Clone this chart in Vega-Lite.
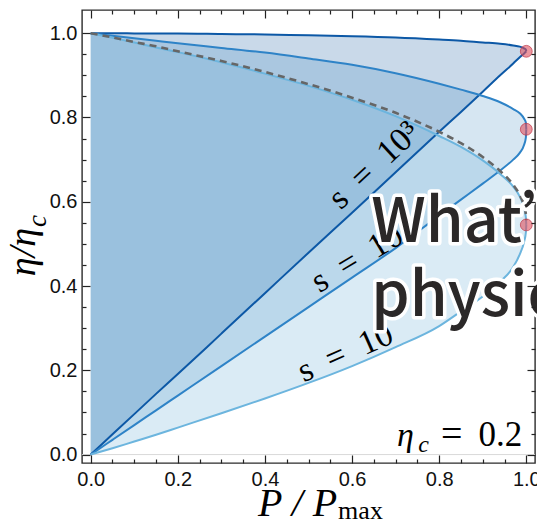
{
  "$schema": "https://vega.github.io/schema/vega-lite/v6.json",
  "width": 453,
  "height": 453,
  "autosize": "none",
  "padding": {"left": 82, "top": 10, "right": 2, "bottom": 61},
  "background": "white",
  "config": {
    "view": {"stroke": "#2b2b2b", "strokeWidth": 1.4},
    "axis": {"labelFont": "Arial, Helvetica, sans-serif", "labelFontSize": 20, "labelColor": "#111", "grid": false, "domain": false, "tickColor": "#222222", "tickWidth": 1.2, "title": null}
  },
  "datasets": {
    "loops": [
      {"s": "1000", "P": 0, "lo": 0, "hi": 1},
      {"s": "1000", "P": 0.05, "lo": 0.048, "hi": 1.0},
      {"s": "1000", "P": 0.1, "lo": 0.096, "hi": 0.9995},
      {"s": "1000", "P": 0.15, "lo": 0.144, "hi": 0.999},
      {"s": "1000", "P": 0.2, "lo": 0.191, "hi": 0.999},
      {"s": "1000", "P": 0.3, "lo": 0.287, "hi": 0.998},
      {"s": "1000", "P": 0.4, "lo": 0.383, "hi": 0.997},
      {"s": "1000", "P": 0.5, "lo": 0.479, "hi": 0.995},
      {"s": "1000", "P": 0.6, "lo": 0.574, "hi": 0.993},
      {"s": "1000", "P": 0.7, "lo": 0.67, "hi": 0.99},
      {"s": "1000", "P": 0.8, "lo": 0.766, "hi": 0.985},
      {"s": "1000", "P": 0.85, "lo": 0.813, "hi": 0.982},
      {"s": "1000", "P": 0.9, "lo": 0.861, "hi": 0.978},
      {"s": "1000", "P": 0.94, "lo": 0.9, "hi": 0.975},
      {"s": "1000", "P": 0.97, "lo": 0.928, "hi": 0.971},
      {"s": "1000", "P": 0.985, "lo": 0.943, "hi": 0.968},
      {"s": "1000", "P": 0.995, "lo": 0.952, "hi": 0.964},
      {"s": "1000", "P": 0.999, "lo": 0.956, "hi": 0.961},
      {"s": "1000", "P": 1, "lo": 0.957, "hi": 0.957},
      {"s": "100", "P": 0, "lo": 0, "hi": 1},
      {"s": "100", "P": 0.05, "lo": 0.035, "hi": 0.994},
      {"s": "100", "P": 0.1, "lo": 0.07, "hi": 0.988},
      {"s": "100", "P": 0.15, "lo": 0.105, "hi": 0.982},
      {"s": "100", "P": 0.2, "lo": 0.14, "hi": 0.976},
      {"s": "100", "P": 0.3, "lo": 0.21, "hi": 0.965},
      {"s": "100", "P": 0.4, "lo": 0.28, "hi": 0.954},
      {"s": "100", "P": 0.5, "lo": 0.35, "hi": 0.94},
      {"s": "100", "P": 0.6, "lo": 0.42, "hi": 0.925},
      {"s": "100", "P": 0.7, "lo": 0.49, "hi": 0.905},
      {"s": "100", "P": 0.8, "lo": 0.567, "hi": 0.88},
      {"s": "100", "P": 0.85, "lo": 0.605, "hi": 0.866},
      {"s": "100", "P": 0.9, "lo": 0.643, "hi": 0.851},
      {"s": "100", "P": 0.94, "lo": 0.674, "hi": 0.836},
      {"s": "100", "P": 0.97, "lo": 0.7, "hi": 0.82},
      {"s": "100", "P": 0.985, "lo": 0.716, "hi": 0.81},
      {"s": "100", "P": 0.995, "lo": 0.735, "hi": 0.797},
      {"s": "100", "P": 0.999, "lo": 0.752, "hi": 0.788},
      {"s": "100", "P": 1, "lo": 0.772, "hi": 0.772},
      {"s": "10", "P": 0, "lo": 0, "hi": 1},
      {"s": "10", "P": 0.05, "lo": 0.015, "hi": 0.989},
      {"s": "10", "P": 0.1, "lo": 0.031, "hi": 0.978},
      {"s": "10", "P": 0.15, "lo": 0.047, "hi": 0.966},
      {"s": "10", "P": 0.2, "lo": 0.064, "hi": 0.955},
      {"s": "10", "P": 0.3, "lo": 0.098, "hi": 0.931},
      {"s": "10", "P": 0.4, "lo": 0.133, "hi": 0.904},
      {"s": "10", "P": 0.5, "lo": 0.17, "hi": 0.875},
      {"s": "10", "P": 0.6, "lo": 0.21, "hi": 0.842},
      {"s": "10", "P": 0.7, "lo": 0.255, "hi": 0.803},
      {"s": "10", "P": 0.8, "lo": 0.305, "hi": 0.756},
      {"s": "10", "P": 0.85, "lo": 0.34, "hi": 0.73},
      {"s": "10", "P": 0.9, "lo": 0.375, "hi": 0.698},
      {"s": "10", "P": 0.94, "lo": 0.41, "hi": 0.666},
      {"s": "10", "P": 0.97, "lo": 0.445, "hi": 0.636},
      {"s": "10", "P": 0.985, "lo": 0.475, "hi": 0.612},
      {"s": "10", "P": 0.995, "lo": 0.505, "hi": 0.585},
      {"s": "10", "P": 0.999, "lo": 0.527, "hi": 0.563},
      {"s": "10", "P": 1, "lo": 0.545, "hi": 0.545}
    ],
    "bound": [
      {"P": 0, "bound": 1},
      {"P": 0.05, "bound": 0.99},
      {"P": 0.1, "bound": 0.979},
      {"P": 0.15, "bound": 0.969},
      {"P": 0.2, "bound": 0.957},
      {"P": 0.3, "bound": 0.934},
      {"P": 0.4, "bound": 0.908},
      {"P": 0.5, "bound": 0.879},
      {"P": 0.6, "bound": 0.847},
      {"P": 0.7, "bound": 0.811},
      {"P": 0.8, "bound": 0.766},
      {"P": 0.85, "bound": 0.739},
      {"P": 0.9, "bound": 0.706},
      {"P": 0.94, "bound": 0.673},
      {"P": 0.97, "bound": 0.64},
      {"P": 0.985, "bound": 0.616},
      {"P": 0.995, "bound": 0.59},
      {"P": 0.999, "bound": 0.571},
      {"P": 1, "bound": 0.556}
    ],
    "tips": [
      {"s": "1000", "P": 1, "tip": 0.957},
      {"s": "100", "P": 1, "tip": 0.772},
      {"s": "10", "P": 1, "tip": 0.545}
    ]
  },
  "layer": [
    {
      "data": {"values": [{"eta": 0}]},
      "mark": {"type": "rule", "color": "#d9d9d9", "strokeWidth": 1},
      "encoding": {
        "y": {"field": "eta", "type": "quantitative", "scale": {"domain": [-0.02, 1.055], "nice": false, "zero": false}, "axis": null}
      }
    },
    {
      "data": {"name": "loops"},
      "mark": {"type": "area", "interpolate": "monotone", "opacity": 1},
      "encoding": {
        "x": {"field": "P", "type": "quantitative", "scale": {"domain": [-0.02, 1.02], "nice": false, "zero": false},
          "axis": {"orient": "bottom", "values": [0, 0.2, 0.4, 0.6, 0.8, 1], "format": ".1f", "ticks": false, "labelFont": "Arial, Helvetica, sans-serif", "labelFontSize": 20, "labelPadding": 6, "labelFlush": false, "labelOverlap": false}},
        "y": {"field": "lo", "type": "quantitative", "stack": null, "scale": {"domain": [-0.02, 1.055], "nice": false, "zero": false},
          "axis": {"orient": "left", "values": [0, 0.2, 0.4, 0.6, 0.8, 1], "format": ".1f", "ticks": false, "labelFont": "Arial, Helvetica, sans-serif", "labelFontSize": 20, "labelPadding": 5, "labelFlush": false, "labelOverlap": false}},
        "y2": {"field": "hi"},
        "color": {"field": "s", "type": "nominal", "scale": {"domain": ["10", "100", "1000"], "range": ["rgba(107,174,214,0.25)", "rgba(49,130,189,0.2)", "rgba(8,81,156,0.22)"]}, "legend": null}
      }
    },
    {
      "data": {"name": "loops"},
      "mark": {"type": "line", "interpolate": "monotone", "strokeWidth": 2},
      "encoding": {
        "x": {"field": "P", "type": "quantitative", "scale": {"domain": [-0.02, 1.02], "nice": false, "zero": false},
          "axis": {"orient": "bottom", "values": [0, 0.2, 0.4, 0.6, 0.8, 1], "labels": false, "tickSize": -8, "zindex": 1}},
        "y": {"field": "lo", "type": "quantitative", "scale": {"domain": [-0.02, 1.055], "nice": false, "zero": false},
          "axis": {"orient": "left", "values": [0, 0.2, 0.4, 0.6, 0.8, 1], "labels": false, "tickSize": -8, "zindex": 1}},
        "color": {"field": "s", "type": "nominal", "scale": {"domain": ["10", "100", "1000"], "range": ["#6cb5de", "#2e83c7", "#0c58a6"]}, "legend": null}
      }
    },
    {
      "data": {"name": "loops"},
      "mark": {"type": "line", "interpolate": "monotone", "strokeWidth": 2},
      "encoding": {
        "x": {"field": "P", "type": "quantitative", "scale": {"domain": [-0.02, 1.02], "nice": false, "zero": false},
          "axis": {"orient": "top", "values": [0, 0.2, 0.4, 0.6, 0.8, 1], "labels": false, "tickSize": -8, "zindex": 1}},
        "y": {"field": "hi", "type": "quantitative", "scale": {"domain": [-0.02, 1.055], "nice": false, "zero": false},
          "axis": {"orient": "right", "values": [0, 0.2, 0.4, 0.6, 0.8, 1], "labels": false, "tickSize": -8, "zindex": 1}},
        "color": {"field": "s", "type": "nominal", "scale": {"domain": ["10", "100", "1000"], "range": ["#6cb5de", "#2e83c7", "#0c58a6"]}, "legend": null}
      }
    },
    {
      "data": {"name": "bound"},
      "mark": {"type": "line", "interpolate": "monotone", "strokeWidth": 2.6, "color": "#666666", "strokeDash": [7, 5]},
      "encoding": {
        "x": {"field": "P", "type": "quantitative", "scale": {"domain": [-0.02, 1.02], "nice": false, "zero": false},
          "axis": {"orient": "bottom", "values": [0.05, 0.1, 0.15, 0.25, 0.3, 0.35, 0.45, 0.5, 0.55, 0.65, 0.7, 0.75, 0.85, 0.9, 0.95], "labels": false, "tickSize": -4, "zindex": 1}},
        "y": {"field": "bound", "type": "quantitative", "scale": {"domain": [-0.02, 1.055], "nice": false, "zero": false},
          "axis": {"orient": "left", "values": [0.05, 0.1, 0.15, 0.25, 0.3, 0.35, 0.45, 0.5, 0.55, 0.65, 0.7, 0.75, 0.85, 0.9, 0.95], "labels": false, "tickSize": -4, "zindex": 1}}
      }
    },
    {
      "data": {"name": "tips"},
      "mark": {"type": "point", "shape": "circle", "filled": true, "size": 140, "fill": "#e0505e", "fillOpacity": 0.6, "stroke": "#c03848", "strokeWidth": 1, "strokeOpacity": 0.7, "opacity": 1},
      "encoding": {
        "x": {"field": "P", "type": "quantitative", "scale": {"domain": [-0.02, 1.02], "nice": false, "zero": false},
          "axis": {"orient": "top", "values": [0.05, 0.1, 0.15, 0.25, 0.3, 0.35, 0.45, 0.5, 0.55, 0.65, 0.7, 0.75, 0.85, 0.9, 0.95], "labels": false, "tickSize": -4, "zindex": 1}},
        "y": {"field": "tip", "type": "quantitative", "scale": {"domain": [-0.02, 1.055], "nice": false, "zero": false},
          "axis": {"orient": "right", "values": [0.05, 0.1, 0.15, 0.25, 0.3, 0.35, 0.45, 0.5, 0.55, 0.65, 0.7, 0.75, 0.85, 0.9, 0.95], "labels": false, "tickSize": -4, "zindex": 1}}
      }
    },
    {
      "data": {"values": [{"P": 0.651, "eta": 0.686, "label": "s\u2002=\u200210³"}]},
      "mark": {"type": "text", "font": "Liberation Serif", "fontSize": 34, "angle": 317, "align": "center", "baseline": "middle", "color": "#000"},
      "encoding": {
        "x": {"field": "P", "type": "quantitative", "scale": {"domain": [-0.02, 1.02], "nice": false, "zero": false}, "axis": null},
        "y": {"field": "eta", "type": "quantitative", "scale": {"domain": [-0.02, 1.055], "nice": false, "zero": false}, "axis": null},
        "text": {"field": "label"}
      }
    },
    {
      "data": {"values": [{"P": 0.622, "eta": 0.471, "label": "s\u2002=\u200210²"}]},
      "mark": {"type": "text", "font": "Liberation Serif", "fontSize": 34, "angle": 329, "align": "center", "baseline": "middle", "color": "#000"},
      "encoding": {
        "x": {"field": "P", "type": "quantitative", "scale": {"domain": [-0.02, 1.02], "nice": false, "zero": false}, "axis": null},
        "y": {"field": "eta", "type": "quantitative", "scale": {"domain": [-0.02, 1.055], "nice": false, "zero": false}, "axis": null},
        "text": {"field": "label"}
      }
    },
    {
      "data": {"values": [{"P": 0.585, "eta": 0.241, "label": "s\u2002=\u200210"}]},
      "mark": {"type": "text", "font": "Liberation Serif", "fontSize": 34, "angle": 336, "align": "center", "baseline": "middle", "color": "#000"},
      "encoding": {
        "x": {"field": "P", "type": "quantitative", "scale": {"domain": [-0.02, 1.02], "nice": false, "zero": false}, "axis": null},
        "y": {"field": "eta", "type": "quantitative", "scale": {"domain": [-0.02, 1.055], "nice": false, "zero": false}, "axis": null},
        "text": {"field": "label"}
      }
    },
    {
      "data": {"values": [{"P": 0.703, "eta": 0.0197, "label": "η"}]},
      "mark": {"type": "text", "font": "Liberation Serif", "fontStyle": "italic", "fontSize": 34, "align": "left", "baseline": "alphabetic", "color": "#000"},
      "encoding": {
        "x": {"field": "P", "type": "quantitative", "scale": {"domain": [-0.02, 1.02], "nice": false, "zero": false}, "axis": null},
        "y": {"field": "eta", "type": "quantitative", "scale": {"domain": [-0.02, 1.055], "nice": false, "zero": false}, "axis": null},
        "text": {"field": "label"}
      }
    },
    {
      "data": {"values": [{"P": 0.752, "eta": 0.006, "label": "c"}]},
      "mark": {"type": "text", "font": "Liberation Serif", "fontStyle": "italic", "fontSize": 24, "align": "left", "baseline": "alphabetic", "color": "#000"},
      "encoding": {
        "x": {"field": "P", "type": "quantitative", "scale": {"domain": [-0.02, 1.02], "nice": false, "zero": false}, "axis": null},
        "y": {"field": "eta", "type": "quantitative", "scale": {"domain": [-0.02, 1.055], "nice": false, "zero": false}, "axis": null},
        "text": {"field": "label"}
      }
    },
    {
      "data": {"values": [{"P": 0.829, "eta": 0.0197, "label": "="}]},
      "mark": {"type": "text", "font": "Liberation Serif", "fontSize": 38, "align": "center", "baseline": "alphabetic", "color": "#000"},
      "encoding": {
        "x": {"field": "P", "type": "quantitative", "scale": {"domain": [-0.02, 1.02], "nice": false, "zero": false}, "axis": null},
        "y": {"field": "eta", "type": "quantitative", "scale": {"domain": [-0.02, 1.055], "nice": false, "zero": false}, "axis": null},
        "text": {"field": "label"}
      }
    },
    {
      "data": {"values": [{"P": 0.9908, "eta": 0.0197, "label": "0.2"}]},
      "mark": {"type": "text", "font": "Liberation Serif", "fontSize": 35, "align": "right", "baseline": "alphabetic", "color": "#000"},
      "encoding": {
        "x": {"field": "P", "type": "quantitative", "scale": {"domain": [-0.02, 1.02], "nice": false, "zero": false}, "axis": null},
        "y": {"field": "eta", "type": "quantitative", "scale": {"domain": [-0.02, 1.055], "nice": false, "zero": false}, "axis": null},
        "text": {"field": "label"}
      }
    },
    {
      "data": {"values": [{"P": 0.566, "eta": -0.146, "label": "P / P"}]},
      "mark": {"type": "text", "font": "Liberation Serif", "fontStyle": "italic", "fontSize": 40, "align": "right", "baseline": "alphabetic", "color": "#000"},
      "encoding": {
        "x": {"field": "P", "type": "quantitative", "scale": {"domain": [-0.02, 1.02], "nice": false, "zero": false}, "axis": null},
        "y": {"field": "eta", "type": "quantitative", "scale": {"domain": [-0.02, 1.055], "nice": false, "zero": false}, "axis": null},
        "text": {"field": "label"}
      }
    },
    {
      "data": {"values": [{"P": 0.568, "eta": -0.154, "label": "max"}]},
      "mark": {"type": "text", "font": "Liberation Serif", "fontSize": 26, "align": "left", "baseline": "alphabetic", "color": "#000"},
      "encoding": {
        "x": {"field": "P", "type": "quantitative", "scale": {"domain": [-0.02, 1.02], "nice": false, "zero": false}, "axis": null},
        "y": {"field": "eta", "type": "quantitative", "scale": {"domain": [-0.02, 1.055], "nice": false, "zero": false}, "axis": null},
        "text": {"field": "label"}
      }
    },
    {
      "data": {"values": [{"P": -0.129, "eta": 0.538, "label": "η/η"}]},
      "mark": {"type": "text", "font": "Liberation Serif", "fontStyle": "italic", "fontSize": 38, "angle": 270, "align": "right", "baseline": "alphabetic", "color": "#000"},
      "encoding": {
        "x": {"field": "P", "type": "quantitative", "scale": {"domain": [-0.02, 1.02], "nice": false, "zero": false}, "axis": null},
        "y": {"field": "eta", "type": "quantitative", "scale": {"domain": [-0.02, 1.055], "nice": false, "zero": false}, "axis": null},
        "text": {"field": "label"}
      }
    },
    {
      "data": {"values": [{"P": -0.103, "eta": 0.54, "label": "c"}]},
      "mark": {"type": "text", "font": "Liberation Serif", "fontStyle": "italic", "fontSize": 27, "angle": 270, "align": "left", "baseline": "alphabetic", "color": "#000"},
      "encoding": {
        "x": {"field": "P", "type": "quantitative", "scale": {"domain": [-0.02, 1.02], "nice": false, "zero": false}, "axis": null},
        "y": {"field": "eta", "type": "quantitative", "scale": {"domain": [-0.02, 1.055], "nice": false, "zero": false}, "axis": null},
        "text": {"field": "label"}
      }
    },
    {
      "data": {"values": [{"P": 0.644, "eta": 0.505, "label": "What’s"}, {"P": 0.644, "eta": 0.329, "label": "physics"}]},
      "mark": {"type": "text", "font": "Noto Sans CJK SC", "fontWeight": 500, "fontSize": 61, "align": "left", "baseline": "alphabetic", "fill": "white", "stroke": "white", "strokeWidth": 7, "strokeJoin": "round"},
      "encoding": {
        "x": {"field": "P", "type": "quantitative", "scale": {"domain": [-0.02, 1.02], "nice": false, "zero": false}, "axis": null},
        "y": {"field": "eta", "type": "quantitative", "scale": {"domain": [-0.02, 1.055], "nice": false, "zero": false}, "axis": null},
        "text": {"field": "label"}
      }
    },
    {
      "data": {"values": [{"P": 0.644, "eta": 0.505, "label": "What’s"}, {"P": 0.644, "eta": 0.329, "label": "physics"}]},
      "mark": {"type": "text", "font": "Noto Sans CJK SC", "fontWeight": 500, "fontSize": 61, "align": "left", "baseline": "alphabetic", "fill": "#2b2828"},
      "encoding": {
        "x": {"field": "P", "type": "quantitative", "scale": {"domain": [-0.02, 1.02], "nice": false, "zero": false}, "axis": null},
        "y": {"field": "eta", "type": "quantitative", "scale": {"domain": [-0.02, 1.055], "nice": false, "zero": false}, "axis": null},
        "text": {"field": "label"}
      }
    }
  ],
  "resolve": {
    "scale": {"color": "independent"},
    "axis": {"x": "independent", "y": "independent"}
  }
}
